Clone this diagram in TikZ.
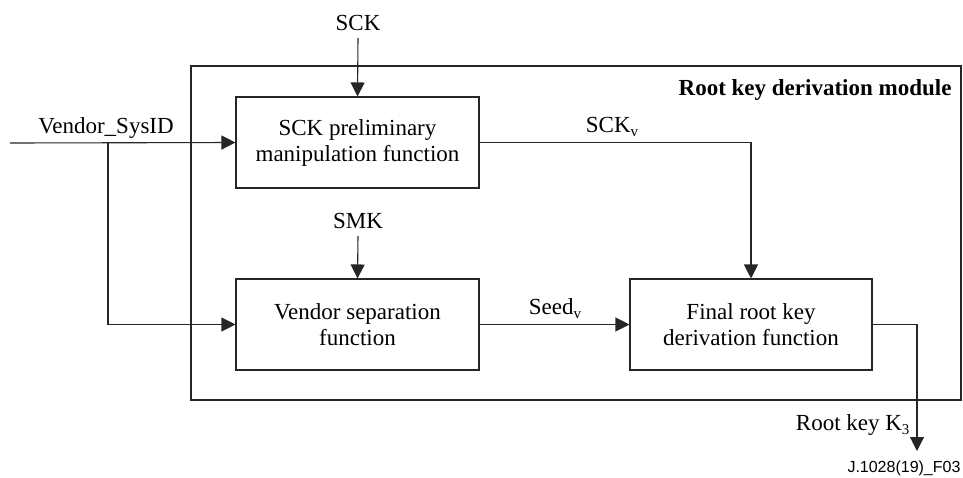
\documentclass[tikz,border=0pt]{standalone}
\usepackage{fontspec}
\setmainfont{Liberation Serif}
\setsansfont{Liberation Sans}
\usetikzlibrary{arrows.meta}
\newcommand{\lowsub}[1]{\raisebox{-4.5pt}{\fontsize{15}{15}\selectfont #1}}
\begin{document}
\begin{tikzpicture}[x=1pt,y=-1pt,
  line width=1.1pt, draw=black!85,
  every node/.style={font=\fontsize{23}{26}\selectfont, inner sep=0pt},
  fbox/.style={draw, line width=1.1pt, minimum width=243pt, minimum height=91pt, align=center},
  lbl/.style={anchor=base},
  arr/.style={-{Triangle[length=14pt,width=14pt]}}]
\useasboundingbox (0,0) rectangle (963,477);
% module frame
\draw (191,66) rectangle (961,400);
\node[lbl, anchor=base east, font=\fontsize{23}{26}\selectfont\bfseries] (mod) at (952,95) {Root key derivation module};
% function boxes
\node[fbox] (b1) at (357.5,142.5) {SCK preliminary\\manipulation function};
\node[fbox] (b2) at (357.5,324.5) {Vendor separation\\function};
\node[fbox, minimum width=242pt] (b3) at (751,324.5) {Final root key\\derivation function};
% inputs
\node[lbl] (sck) at (358,30) {SCK};
\draw[arr] ([yshift=-7pt]sck.south) -- (b1.north);
\node[lbl] (smk) at (358,228) {SMK};
\draw[arr] ([yshift=-7pt]smk.south) -- (b2.north);
\coordinate (in) at (10,143);
\coordinate (br) at (108,143);
\node[lbl] (vid) at (106,133) {Vendor\_SysID};
\draw[arr] (in) -- (b1.west);
\draw[arr] (br) |- (b2.west);
% internal connections
\draw[arr] (b1.east) -| (b3.north);
\node[lbl] (sckv) at (612,132) {SCK\lowsub{v}};
\draw[arr] (b2.east) -- (b3.west);
\node[lbl] (seedv) at (555,314) {Seed\lowsub{v}};
% output
\coordinate (out) at (917,451);
\draw[arr] (b3.east) -| (out);
\node[lbl, anchor=base east] (rk) at (910,430) {Root key K\lowsub{3}};
\node[anchor=base east, font=\fontsize{16}{18}\sffamily] (fig) at (961,472) {J.1028(19)\_F03};
\end{tikzpicture}
\end{document}
